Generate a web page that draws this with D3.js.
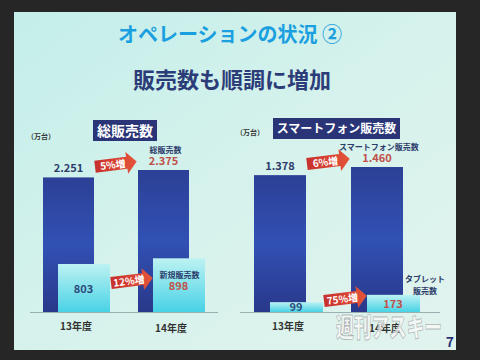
<!DOCTYPE html>
<html>
<head>
<meta charset="utf-8">
<script src="https://cdn.jsdelivr.net/npm/d3@7"></script>
<style>
  body { margin: 0; background: #222; }
  svg { display: block; font-family: "Noto Sans CJK JP", "Noto Sans", sans-serif; font-weight: bold; }
</style>
</head>
<body>
<div id="chart"></div>
<script>
// Data
const years = ["13年度", "14年度"];
const totalSales = [2251, 2375];
const newSales = [803, 898];
const smartSales = [1378, 1460];
const tabletSales = [99, 173];
const totalGrowth = "5%増";
const newGrowth = "12%増";
const smartGrowth = "6%増";
const tabletGrowth = "75%増";
const fmt = v => v >= 1000 ? d3.format(",")(v).replace(",", ".") : String(v);

const W = 480, H = 360;
const svg = d3.select("#chart").append("svg").attr("width", W).attr("height", H);
const defs = svg.append("defs");

// Gradients
const bg = defs.append("linearGradient").attr("id", "bg").attr("x1", 0).attr("y1", 0).attr("x2", 1).attr("y2", 1);
bg.append("stop").attr("offset", 0).attr("stop-color", "#c4eeea");
bg.append("stop").attr("offset", 0.5).attr("stop-color", "#d6f2ec");
bg.append("stop").attr("offset", 1).attr("stop-color", "#e2f3ee");

const dark = defs.append("linearGradient").attr("id", "dark").attr("x1", 0).attr("y1", 0).attr("x2", 0).attr("y2", 1);
dark.append("stop").attr("offset", 0).attr("stop-color", "#2c4096");
dark.append("stop").attr("offset", 0.5).attr("stop-color", "#3151b4");
dark.append("stop").attr("offset", 1).attr("stop-color", "#29388a");

const light = defs.append("linearGradient").attr("id", "light").attr("x1", 0).attr("y1", 0).attr("x2", 0).attr("y2", 1);
light.append("stop").attr("offset", 0).attr("stop-color", "#bdf2f2");
light.append("stop").attr("offset", 1).attr("stop-color", "#48d2e6");

const red = defs.append("linearGradient").attr("id", "red").attr("x1", 0).attr("y1", 0).attr("x2", 1).attr("y2", 0);
red.append("stop").attr("offset", 0).attr("stop-color", "#c8302c");
red.append("stop").attr("offset", 1).attr("stop-color", "#e4553a");

// Dark frame and slide
svg.append("rect").attr("width", W).attr("height", H).attr("fill", "#262626");
svg.append("rect").attr("x", 14).attr("y", 12).attr("width", 442).attr("height", 338).attr("fill", "url(#bg)");

// Titles
svg.append("text").attr("x", 230).attr("y", 42).attr("text-anchor", "middle")
  .attr("font-size", 20).attr("fill", "#1a9fe0").text("オペレーションの状況 ②");
svg.append("text").attr("x", 232).attr("y", 88).attr("text-anchor", "middle")
  .attr("font-size", 22).attr("fill", "#2c3c78").text("販売数も順調に増加");

const baseY = 312;

function arrow(x0, x1, cy, label) {
  const len = x1 - x0;
  const g = svg.append("g").attr("transform", `translate(${x0},${cy}) rotate(-7)`);
  g.append("path")
    .attr("d", `M0,-6 L${len - 10},-6 L${len - 10},-11 L${len},0 L${len - 10},11 L${len - 10},6 L0,6 Z`)
    .attr("fill", "url(#red)");
  g.append("text").attr("x", (len - 10) / 2 + 2).attr("y", 4).attr("text-anchor", "middle")
    .attr("font-size", 10).attr("fill", "#fff").text(label);
}

function panel(opt) {
  const x = d3.scaleBand().domain(years).range(opt.xRange).paddingInner(opt.padIn).paddingOuter(0);
  const y = d3.scaleLinear().domain([0, opt.main[1]]).range([baseY, opt.topY]);
  const bw = x.bandwidth();

  // title box
  svg.append("rect").attr("x", opt.box[0]).attr("y", opt.box[1]).attr("width", opt.box[2]).attr("height", opt.box[3])
    .attr("fill", "#2a3578");
  svg.append("text").attr("x", opt.box[0] + opt.box[2] / 2).attr("y", opt.box[1] + opt.box[3] / 2 + opt.titleSize * 0.38)
    .attr("text-anchor", "middle").attr("font-size", opt.titleSize).attr("fill", "#fff").text(opt.title);
  svg.append("text").attr("x", opt.unitX).attr("y", opt.unitY).attr("font-size", 7).attr("fill", "#333")
    .text("（万台）");

  // baseline
  svg.append("line").attr("x1", opt.line[0]).attr("x2", opt.line[1]).attr("y1", baseY + 0.5).attr("y2", baseY + 0.5)
    .attr("stroke", "#9ab0b0").attr("stroke-width", 1);

  // main bars
  svg.selectAll(null).data(years).enter().append("rect")
    .attr("x", d => x(d)).attr("y", (d, i) => y(opt.main[i]))
    .attr("width", bw).attr("height", (d, i) => baseY - y(opt.main[i]))
    .attr("fill", "url(#dark)");
  // sub bars
  svg.selectAll(null).data(years).enter().append("rect")
    .attr("x", d => x(d) + opt.offset).attr("y", (d, i) => y(opt.sub[i]))
    .attr("width", bw + 1).attr("height", (d, i) => baseY - y(opt.sub[i]))
    .attr("fill", "url(#light)");

  // category labels
  svg.selectAll(null).data(years).enter().append("text")
    .attr("x", d => x(d) + bw / 2 + opt.offset / 2).attr("y", (d, i) => 330 + i * 2)
    .attr("text-anchor", "middle").attr("font-size", 10).attr("fill", "#333").text(d => d);

  // value labels
  const x0 = x(years[0]), x1 = x(years[1]);
  svg.append("text").attr("x", x0 + bw / 2).attr("y", y(opt.main[0]) - 5).attr("text-anchor", "middle")
    .attr("font-size", 11).attr("fill", "#2c3c6a").text(fmt(opt.main[0]));
  svg.append("text").attr("x", x1 + bw / 2 + 2).attr("y", y(opt.main[1]) - 17).attr("text-anchor", "middle")
    .attr("font-size", 8).attr("fill", "#2c3c6a").text(opt.mainName);
  svg.append("text").attr("x", x1 + bw / 2).attr("y", y(opt.main[1]) - 5).attr("text-anchor", "middle")
    .attr("font-size", 11).attr("fill", "#c0504a").text(fmt(opt.main[1]));

  svg.append("text").attr("x", x0 + opt.offset + bw / 2).attr("y", opt.sub0Y).attr("text-anchor", "middle")
    .attr("font-size", 11).attr("fill", "#2c4a7a").text(fmt(opt.sub[0]));
  opt.subLabels(x1, bw, y);

  // arrows
  arrow(x0 + bw + 1, x1 - 1, (y(opt.main[0]) + y(opt.main[1])) / 2 - 7, opt.growth[0]);
  arrow(x0 + opt.offset + bw + 2, x1 + opt.offset, opt.arrow2Y, opt.growth[1]);
}

panel({
  title: "総販売数", mainName: "総販売数", titleSize: 14,
  main: totalSales, sub: newSales, growth: [totalGrowth, newGrowth],
  xRange: [43, 189], padIn: 0.463, topY: 170, offset: 15,
  box: [93, 120, 64, 21], unitX: 27, unitY: 139, line: [30, 218],
  sub0Y: 293,
  arrow2Y: 283,
  subLabels: (x1, bw, y) => {
    svg.append("text").attr("x", x1 + 15 + bw / 2 + 1).attr("y", 278).attr("text-anchor", "middle")
      .attr("font-size", 8).attr("fill", "#2c3c6a").text("新規販売数");
    svg.append("text").attr("x", x1 + 15 + bw / 2).attr("y", 290).attr("text-anchor", "middle")
      .attr("font-size", 11).attr("fill", "#c0504a").text(fmt(newSales[1]));
  }
});

panel({
  title: "スマートフォン販売数", mainName: "スマートフォン販売数", titleSize: 12,
  main: smartSales, sub: tabletSales, growth: [smartGrowth, tabletGrowth],
  xRange: [254, 403], padIn: 0.464, topY: 167, offset: 16,
  box: [273, 118, 127, 21], unitX: 236, unitY: 135, line: [240, 440],
  sub0Y: 311,
  arrow2Y: 301,
  subLabels: (x1, bw, y) => {
    svg.append("text").attr("x", 425).attr("y", 282).attr("text-anchor", "middle")
      .attr("font-size", 8).attr("fill", "#2c3c6a").text("タブレット");
    svg.append("text").attr("x", 425).attr("y", 294).attr("text-anchor", "middle")
      .attr("font-size", 8).attr("fill", "#2c3c6a").text("販売数");
    svg.append("text").attr("x", x1 + 16 + bw / 2).attr("y", 308).attr("text-anchor", "middle")
      .attr("font-size", 11).attr("fill", "#c0504a").text(fmt(tabletSales[1]));
  }
});

// watermark
svg.append("text").attr("x", 336).attr("y", 337).attr("font-size", 26).attr("font-weight", 900)
  .attr("textLength", 106).attr("lengthAdjust", "spacingAndGlyphs")
  .attr("fill", "#fafafa").attr("fill-opacity", 0.75)
  .attr("stroke", "#888").attr("stroke-width", 0.8).attr("stroke-opacity", 0.6)
  .text("週刊アスキー");

// page number
svg.append("text").attr("x", 450).attr("y", 347).attr("text-anchor", "middle")
  .attr("font-size", 14).attr("fill", "#2a3578").text("7");
</script>
</body>
</html>
